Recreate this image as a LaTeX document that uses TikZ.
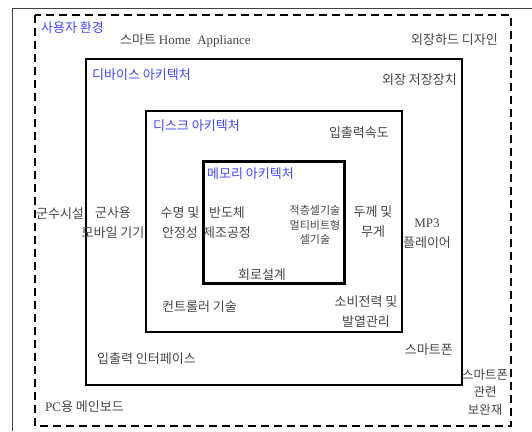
\documentclass[tikz,border=0pt]{standalone}
\usepackage{fontspec}
\setmainfont{Noto Sans CJK KR}
\newfontfamily\lat{Liberation Serif}
\definecolor{lblue}{RGB}{70,70,250}
\definecolor{tgray}{RGB}{70,70,70}
\begin{document}
\begin{tikzpicture}[x=1pt,y=-1pt,
  txt/.style={font=\fontsize{13}{20}\selectfont, text=tgray, inner sep=0pt, align=center},
  ttl/.style={font=\fontsize{13}{16}\selectfont, text=lblue, inner sep=0pt, anchor=west},
  solidbox/.style={draw=black, line width=2pt},
  membox/.style={draw=black, line width=3pt},
  dashbox/.style={draw=black, line width=2pt, dash pattern=on 8pt off 5pt}]
\useasboundingbox (0,0) rectangle (532,431);
\fill[white] (0,0) rectangle (532,431);
% outer frame (cropped)
\draw[draw=black!75, line width=1pt] (532,8) -- (12,8) -- (12,431);
% boxes
\draw[dashbox] (35,15) rectangle (511,426);
\draw[solidbox] (86,59) rectangle (462,385);
\draw[solidbox] (146,111) rectangle (402,332);
\draw[membox] (203,161) rectangle (344,283);
% titles
\node[ttl] (tuser) at (41,28) {사용자 환경};
\node[ttl] (tdev) at (92,75) {디바이스 아키텍처};
\node[ttl] (tdisk) at (153,126) {디스크 아키텍처};
\node[ttl] (tmem) at (207,174) {메모리 아키텍처};
% user environment level
\node[txt, anchor=west] (home) at (120,41) {스마트 {\lat Home\ \ Appliance}};
\node[txt, anchor=east] (hdd) at (498,40) {외장하드 디자인};
\node[txt] (mil) at (60,214) {군수시설};
\node[txt, anchor=west] (pc) at (45,407) {{\lat PC}용 메인보드};
\node[txt, font=\fontsize{12.5}{17.5}\selectfont] (acc) at (485,392) {스마트폰\\관련\\보완재};
% device level
\node[txt, anchor=east] (ext) at (457,80) {외장 저장장치};
\node[txt] (milmob) at (113,223) {군사용\\모바일 기기};
\node[txt] (mp3) at (427,234) {{\lat MP3}\\플레이어};
\node[txt, anchor=west] (io) at (97,359) {입출력 인터페이스};
\node[txt, anchor=east] (phone) at (453,350) {스마트폰};
% disk level
\node[txt, anchor=east] (speed) at (389,133) {입출력속도};
\node[txt] (life) at (180,223) {수명 및\\안정성};
\node[txt] (thick) at (373,222) {두께 및\\무게};
\node[txt, anchor=west] (ctrl) at (162,307) {컨트롤러 기술};
\node[txt] (power) at (366,312) {소비전력 및\\발열관리};
% memory level
\node[txt] (semi) at (227,223) {반도체\\제조공정};
\node[txt, font=\fontsize{11}{14.5}\selectfont] (cell) at (315,225) {적층셀기술\\멀티비트형\\셀기술};
\node[txt] (circ) at (262,275) {회로설계};
\end{tikzpicture}
\end{document}
